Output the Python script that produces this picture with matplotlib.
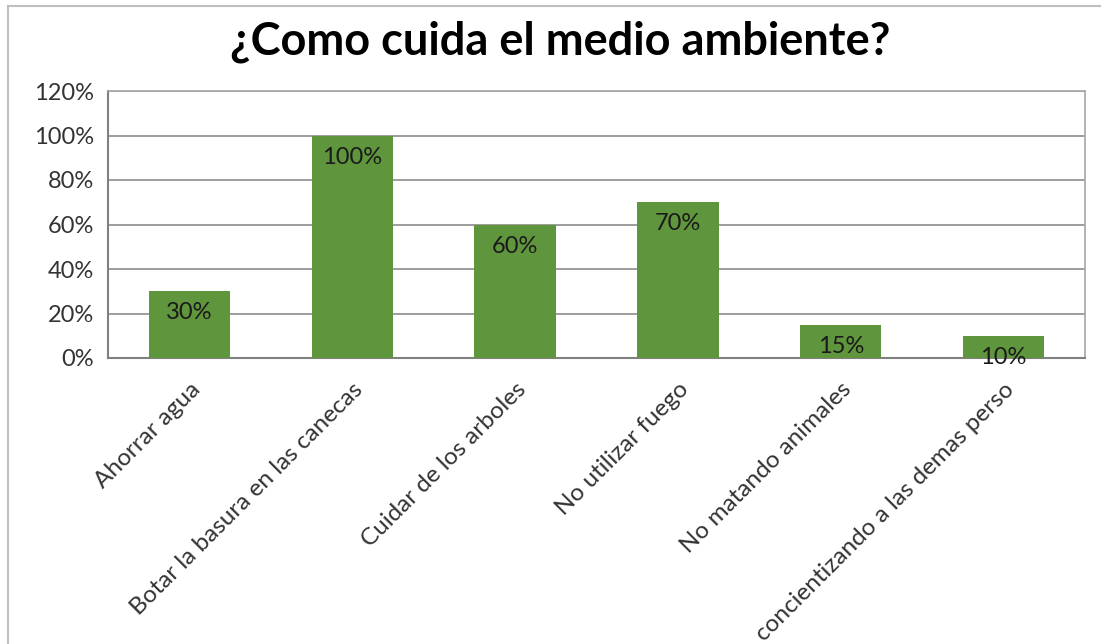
import numpy as np
import matplotlib
matplotlib.use("Agg")
import matplotlib.pyplot as plt
from matplotlib.ticker import PercentFormatter

plt.rcParams['font.family'] = ['Lato', 'DejaVu Sans']

# data
categories = ["Ahorrar agua", "Botar la basura en las canecas", "Cuidar de los arboles",
              "No utilizar fuego", "No matando animales", "concientizando a las demas perso"]
values = [30, 100, 60, 70, 15, 10]
yticks = [0, 20, 40, 60, 80, 100, 120]

fig = plt.figure(figsize=(11.01, 6.44), dpi=100)
ax = fig.add_axes([108 / 1101, 1 - 358 / 644, (1085 - 108) / 1101, (358 - 91) / 644])

x = np.arange(len(categories))
bars = ax.bar(x, values, width=0.5, color="#5f953c", zorder=3)

# data labels inside top of bars
for rect, v in zip(bars, values):
    ax.annotate(f"{v}%", (rect.get_x() + rect.get_width() / 2, v),
                xytext=(0, -8), textcoords="offset points",
                ha="center", va="top", fontsize=17, color="#1a1a1a", zorder=4)

ax.set_xlim(-0.5, len(categories) - 0.5)
ax.set_ylim(0, 120)
ax.set_yticks(yticks)
ax.yaxis.set_major_formatter(PercentFormatter(decimals=0))
ax.yaxis.grid(True, color="#8c8c8c", linewidth=1.2, zorder=0)
ax.tick_params(axis="y", length=0, pad=10, labelsize=17, labelcolor="#333333")
ax.tick_params(axis="x", length=0, pad=15, labelsize=17.5, labelcolor="#333333")
ax.set_xticks(x)
ax.set_xticklabels(categories, rotation=45, ha="right", rotation_mode="anchor")

for side in ["left", "bottom"]:
    ax.spines[side].set_color("#808080")
    ax.spines[side].set_linewidth(1.5)
for side in ["top", "right"]:
    ax.spines[side].set_color("#a6a6a6")
    ax.spines[side].set_linewidth(1.2)

fig.text(560 / 1101, 1 - 42 / 644, "¿Como cuida el medio ambiente?", ha="center", va="center",
         fontsize=32.5, fontweight="bold", color="black")

# outer chart border (left and top visible)
fig.add_artist(plt.Line2D([8 / 1101, 8 / 1101], [0, 1 - 6 / 644], color="#bfbfbf", linewidth=1.5))
fig.add_artist(plt.Line2D([8 / 1101, 1], [1 - 6 / 644, 1 - 6 / 644], color="#bfbfbf", linewidth=1.5))

fig.savefig("out.png", dpi=100)
